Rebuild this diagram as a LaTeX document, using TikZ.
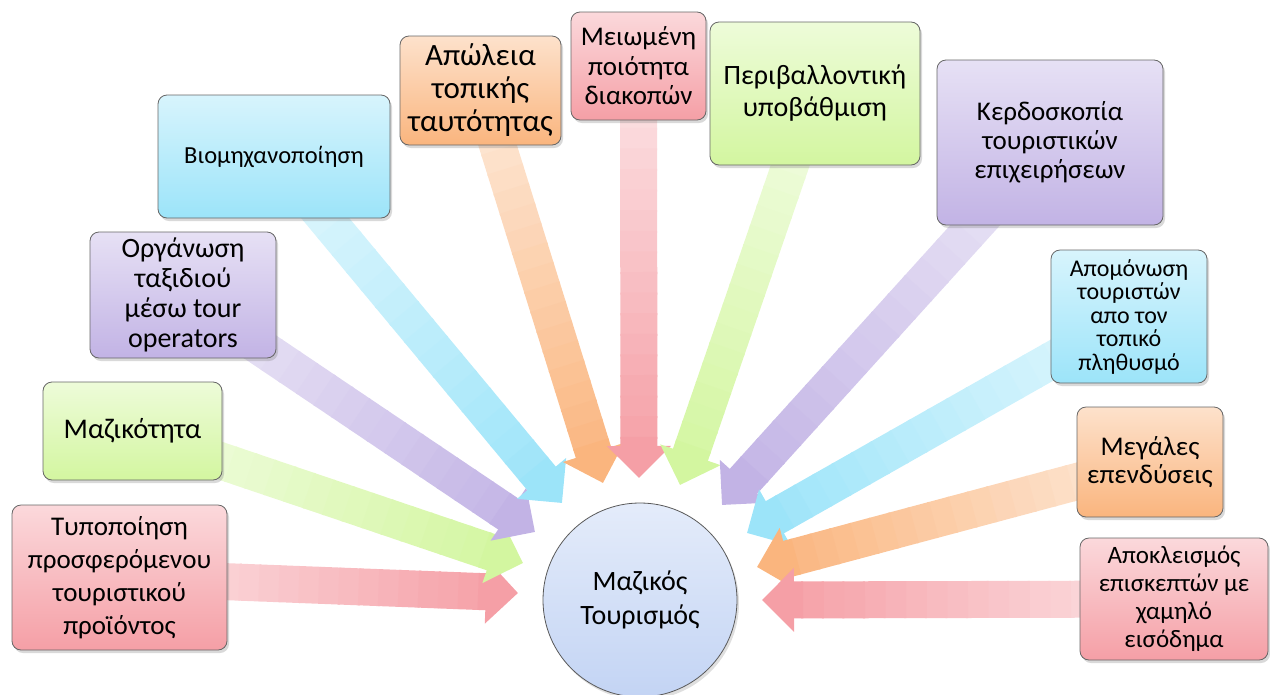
\documentclass[tikz,border=0pt]{standalone}
\usepackage{fontspec}
\setmainfont{Carlito}
\usetikzlibrary{arrows.meta,calc,shadows}
\pgfdeclarelayer{background}
\pgfsetlayers{background,main}
\definecolor{mpink}{HTML}{F59FA6}
\definecolor{morange}{HTML}{FAB57E}
\definecolor{mgreen}{HTML}{D3F6A0}
\definecolor{mpurple}{HTML}{C2B3E5}
\definecolor{mblue}{HTML}{9CE4F9}
\definecolor{mcircle}{HTML}{C3D4F4}
\newcommand\fsz[2]{\fontsize{#1}{#2}\selectfont}
\tikzset{
  cause/.style={draw=black!60, line width=0.8pt, rounded corners=9pt, align=center,
    font=\fsz{27}{33}, top color=#1!40!white, bottom color=#1,
    drop shadow={opacity=0.3, shadow xshift=2pt, shadow yshift=-3pt}, inner sep=2pt},
}
\begin{document}
\begin{tikzpicture}[x=1pt,y=-1pt]
  \useasboundingbox (0,0) rectangle (1270,694);
  % central node
  \node[circle, draw=black!65, line width=0.8pt, top color=mcircle!45!white, bottom color=mcircle,
    minimum size=194pt, align=center, font=\fsz{28}{34},
    drop shadow={opacity=0.25, shadow xshift=2pt, shadow yshift=-3pt}] (mt) at (640,600) {Μαζικός\\Τουρισμός};
  % left side
  \node[cause=mpink, minimum width=215pt, minimum height=145pt] (typ) at (119.5,577.5) {Τυποποίηση\\προσφερόμενου\\τουριστικού\\προϊόντος};
  \node[cause=mgreen, minimum width=179pt, minimum height=98pt, font=\fsz{28.5}{33}] (maz) at (132.5,431) {Μαζικότητα};
  \node[cause=mpurple, minimum width=186pt, minimum height=126pt, font=\fsz{28}{30}] (org) at (183,295) {Οργάνωση\\ταξιδιού\\μέσω tour\\operators};
  \node[cause=mblue, minimum width=232pt, minimum height=123pt, font=\fsz{24.5}{29}] (viom) at (274,156.5) {Βιομηχανοποίηση};
  % top
  \node[cause=morange, minimum width=161pt, minimum height=109pt, font=\fsz{31}{33}] (apol) at (480.5,90.5) {Απώλεια\\τοπικής\\ταυτότητας};
  \node[cause=mpink, minimum width=135pt, minimum height=108pt, font=\fsz{27}{29.5}] (meiom) at (638.5,66) {Μειωμένη\\ποιότητα\\διακοπών};
  \node[cause=mgreen, minimum width=210pt, minimum height=143pt, font=\fsz{28}{32}] (periv) at (815,93.5) {Περιβαλλοντική\\υποβάθμιση};
  % right side
  \node[cause=mpurple, minimum width=226pt, minimum height=165pt, font=\fsz{27}{29}] (kerd) at (1050,142.5) {Κερδοσκοπία\\τουριστικών\\επιχειρήσεων};
  \node[cause=mblue, minimum width=156pt, minimum height=133pt, font=\fsz{24}{23.5}] (apom) at (1129,316.5) {Απομόνωση\\τουριστών\\απο τον\\τοπικό\\πληθυσμό};
  \node[cause=morange, minimum width=146pt, minimum height=110pt, font=\fsz{27}{28}] (meg) at (1150,462) {Μεγάλες\\επενδύσεις};
  \node[cause=mpink, minimum width=188pt, minimum height=122pt, font=\fsz{25}{28}] (apok) at (1174,599) {Αποκλεισμός\\επισκεπτών με\\χαμηλό\\εισόδημα};
  % arrow tips round the circle
  \coordinate (ttyp) at (518,593);
  \coordinate (tmaz) at (523,563);
  \coordinate (torg) at (535,532);
  \coordinate (tviom) at (562,503);
  \coordinate (tapol) at (603,483);
  \coordinate (tmeiom) at (639,478);
  \coordinate (tperiv) at (680,485);
  \coordinate (tkerd) at (722,505);
  \coordinate (tapom) at (747,533);
  \coordinate (tmeg) at (757,567);
  \coordinate (tapok) at (762,600);
  \begin{pgfonlayer}{background}
    \foreach \b/\c in {typ/mpink,maz/mgreen,org/mpurple,viom/mblue,apol/morange,meiom/mpink,
                       periv/mgreen,kerd/mpurple,apom/mblue,meg/morange,apok/mpink}{
      \foreach \i in {0,...,17}{
        \pgfmathsetmacro\s{\i/20}
        \pgfmathsetmacro\e{(\i+1.1)/20}
        \pgfmathtruncatemacro\m{30+3.8*\i}
        \draw[line width=37pt, \c!\m!white] ($(\b.center)!\s!(t\b)$) -- ($(\b.center)!\e!(t\b)$);
      }
      \draw[line width=37pt, \c, -{Triangle[length=32pt,width=62pt]}] ($(\b.center)!0.9!(t\b)$) -- (t\b);
    }
  \end{pgfonlayer}
\end{tikzpicture}
\end{document}
